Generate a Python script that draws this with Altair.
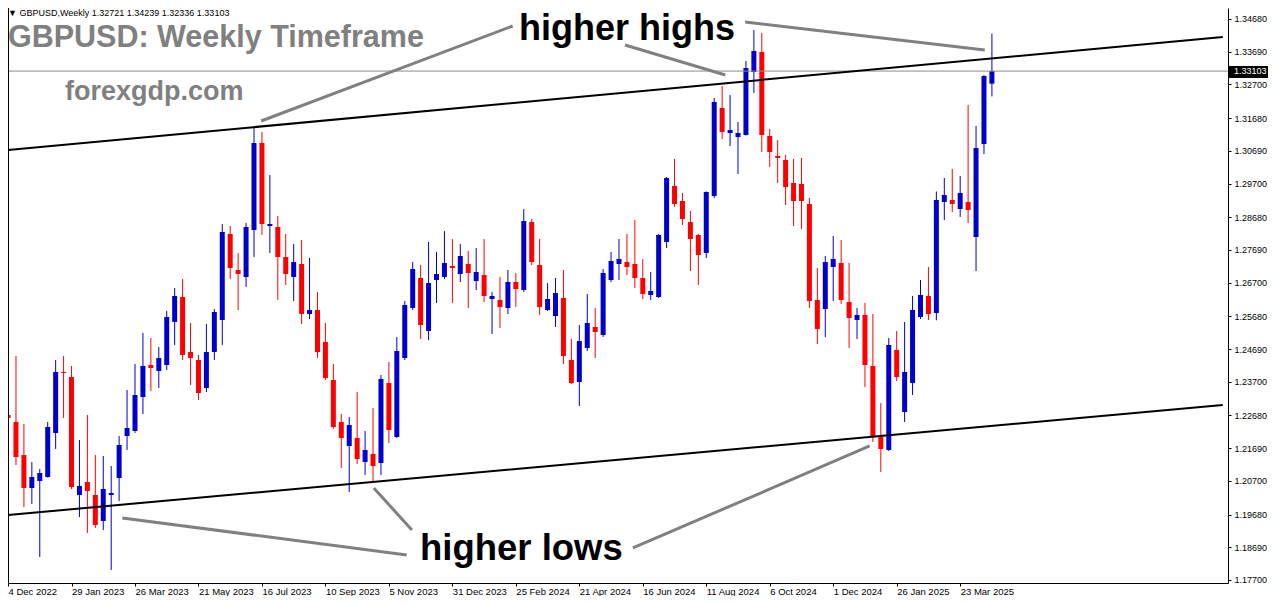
import json
import altair as alt
import pandas as pd

# ---------------- data (weekly GBPUSD candles) -------------
opens = [1.22694, 1.22482, 1.21483, 1.20484, 1.20696, 1.20817, 1.22149, 1.23995, 1.23844, 1.20273,
         1.20666, 1.20273, 1.19486, 1.20273, 1.20787, 1.22058, 1.22210, 1.23239, 1.24207, 1.24026,
         1.24207, 1.25509, 1.26265, 1.24601, 1.24359, 1.23511, 1.24601, 1.25569, 1.28172, 1.27082,
         1.26871, 1.28293, 1.30926, 1.28414, 1.28384, 1.27476, 1.26871, 1.27264, 1.25751, 1.25872,
         1.24903, 1.23753, 1.22482, 1.21756, 1.21998, 1.21271, 1.21514, 1.21241, 1.23662, 1.22028,
         1.24419, 1.25932, 1.26840, 1.25236, 1.26780, 1.26871, 1.27204, 1.26961, 1.27264, 1.26750,
         1.26931, 1.26205, 1.26174, 1.25932, 1.26719, 1.26477, 1.28535, 1.27234, 1.25872, 1.25690,
         1.26235, 1.24359, 1.23693, 1.24722, 1.25357, 1.25115, 1.26780, 1.27264, 1.27325, 1.27264,
         1.26840, 1.26326, 1.26265, 1.27930, 1.29625, 1.29171, 1.28535, 1.28142, 1.27597, 1.29322,
         1.31986, 1.31229, 1.31108, 1.31168, 1.33075, 1.33680, 1.31138, 1.30533, 1.30412, 1.29716,
         1.29685, 1.29080, 1.26174, 1.25902, 1.27173, 1.27294, 1.26114, 1.25569, 1.25720, 1.24177,
         1.22028, 1.21635, 1.24661, 1.22785, 1.23662, 1.25660, 1.26296, 1.25781, 1.29141, 1.29201,
         1.28929, 1.29141, 1.28081, 1.30896, 1.32721]
highs = [1.23451, 1.24480, 1.22421, 1.21271, 1.21060, 1.22482, 1.24359, 1.24480, 1.24177, 1.21937,
         1.22694, 1.21483, 1.21453, 1.21150, 1.22058, 1.23451, 1.24237, 1.25176, 1.25024, 1.24752,
         1.25842, 1.26538, 1.26810, 1.25478, 1.24510, 1.25448, 1.25902, 1.28475, 1.28414, 1.27597,
         1.28505, 1.31380, 1.31259, 1.29958, 1.28717, 1.28172, 1.27869, 1.27990, 1.27446, 1.26417,
         1.25478, 1.24237, 1.22724, 1.22633, 1.23390, 1.22210, 1.22906, 1.23905, 1.24298, 1.25055,
         1.26144, 1.27325, 1.27234, 1.27930, 1.27627, 1.28263, 1.28018, 1.27869, 1.27658, 1.27748,
         1.28018, 1.26417, 1.26871, 1.27082, 1.26992, 1.28929, 1.28626, 1.28021, 1.26689, 1.26840,
         1.27082, 1.24994, 1.25418, 1.26356, 1.25932, 1.27113, 1.27627, 1.28021, 1.28172, 1.28596,
         1.27415, 1.27022, 1.28172, 1.29897, 1.30442, 1.29413, 1.28868, 1.28172, 1.29460, 1.32288,
         1.32651, 1.32379, 1.31562, 1.33408, 1.34346, 1.34256, 1.31350, 1.31017, 1.30563, 1.30442,
         1.30472, 1.29262, 1.27143, 1.27506, 1.28112, 1.27990, 1.27294, 1.25932, 1.26084, 1.25751,
         1.23057, 1.25024, 1.25236, 1.25509, 1.26296, 1.26780, 1.27173, 1.29460, 1.29867, 1.30139,
         1.29927, 1.32076, 1.31441, 1.32984, 1.34239]
lows = [1.21060, 1.21181, 1.19909, 1.20000, 1.18396, 1.20800, 1.21665, 1.22603, 1.20454, 1.19607,
        1.19123, 1.19274, 1.19213, 1.18003, 1.20091, 1.21635, 1.22149, 1.22724, 1.23420, 1.23511,
        1.24056, 1.24813, 1.24359, 1.23602, 1.23148, 1.23390, 1.24359, 1.24813, 1.26810, 1.25872,
        1.26568, 1.27476, 1.28142, 1.27597, 1.26174, 1.26628, 1.26144, 1.25448, 1.25599, 1.24419,
        1.23753, 1.22270, 1.21090, 1.20363, 1.21211, 1.20878, 1.20636, 1.20878, 1.21846, 1.22000,
        1.24359, 1.25872, 1.24994, 1.24964, 1.26084, 1.26810, 1.26084, 1.26719, 1.25932, 1.26477,
        1.26114, 1.25145, 1.25327, 1.25751, 1.25963, 1.26417, 1.27234, 1.25720, 1.25842, 1.25357,
        1.24237, 1.23632, 1.22966, 1.24631, 1.24419, 1.25055, 1.26719, 1.26780, 1.26931, 1.26538,
        1.26205, 1.26174, 1.26235, 1.27748, 1.28989, 1.28444, 1.27052, 1.26628, 1.27446, 1.29262,
        1.31047, 1.30835, 1.29988, 1.31150, 1.32440, 1.30654, 1.30200, 1.29716, 1.29050, 1.28414,
        1.28323, 1.25932, 1.24843, 1.25055, 1.26144, 1.26053, 1.24722, 1.24994, 1.23541, 1.21877,
        1.20969, 1.21600, 1.23723, 1.22482, 1.23299, 1.25599, 1.25569, 1.25560, 1.28596, 1.28838,
        1.28687, 1.28505, 1.27052, 1.30593, 1.32336]
closes = [1.22603, 1.21423, 1.20484, 1.20817, 1.20938, 1.22331, 1.23995, 1.23965, 1.20515, 1.20545,
          1.20394, 1.19365, 1.20454, 1.20333, 1.21786, 1.22300, 1.23299, 1.24177, 1.24116, 1.24419,
          1.25660, 1.26296, 1.24510, 1.24419, 1.23360, 1.24601, 1.25811, 1.28233, 1.27143, 1.26961,
          1.28384, 1.30926, 1.28475, 1.28475, 1.27476, 1.26961, 1.27325, 1.25751, 1.25872, 1.24601,
          1.23814, 1.22331, 1.21998, 1.22391, 1.21362, 1.21635, 1.21150, 1.23783, 1.22240, 1.24631,
          1.26023, 1.27113, 1.25418, 1.26689, 1.26961, 1.27294, 1.27143, 1.27506, 1.26992, 1.27022,
          1.26296, 1.26296, 1.25963, 1.26719, 1.26507, 1.28565, 1.27325, 1.25963, 1.26205, 1.26386,
          1.24480, 1.23662, 1.24934, 1.25478, 1.25206, 1.26992, 1.27355, 1.27415, 1.27173, 1.26840,
          1.26356, 1.26447, 1.28142, 1.29867, 1.29080, 1.28626, 1.28021, 1.27536, 1.29443, 1.32167,
          1.31259, 1.31320, 1.31229, 1.33196, 1.33711, 1.31168, 1.30654, 1.30472, 1.29595, 1.29171,
          1.29171, 1.26144, 1.25297, 1.27325, 1.27415, 1.26174, 1.25630, 1.25720, 1.24207, 1.22028,
          1.21665, 1.24813, 1.23844, 1.23995, 1.25872, 1.26326, 1.25751, 1.29201, 1.29352, 1.29080,
          1.29413, 1.28898, 1.30775, 1.32954, 1.33103]

week_labels = ["4 Dec 2022", "29 Jan 2023", "26 Mar 2023", "21 May 2023", "16 Jul 2023",
               "10 Sep 2023", "5 Nov 2023", "31 Dec 2023", "25 Feb 2024", "21 Apr 2024",
               "16 Jun 2024", "11 Aug 2024", "6 Oct 2024", "1 Dec 2024", "26 Jan 2025",
               "23 Mar 2025"]
label_weeks = [0, 8, 16, 24, 32, 40, 48, 56, 64, 72, 80, 88, 96, 104, 112, 120]
price_ticks = [1.1770, 1.1869, 1.1968, 1.2070, 1.2169, 1.2268, 1.2370, 1.2469, 1.2568,
               1.2670, 1.2769, 1.2868, 1.2970, 1.3069, 1.3168, 1.3270, 1.3369, 1.3468]

last_close = 1.33103
header = "\u25BC GBPUSD,Weekly  1.32721 1.34239 1.32336 1.33103"

# channel lines (week index, price)
channel_line = ["upper", "upper", "lower", "lower"]
channel_week = [0.0, 153.1, 0.0, 153.1]
channel_price = [1.30714, 1.34135, 1.19667, 1.22997]

# annotation pointer segments (week index, price)
seg_w1 = [63.6, 77.75, 92.9, 50.9, 50.25, 78.75]
seg_p1 = [1.34468, 1.33893, 1.34589, 1.19213, 1.18457, 1.18669]
seg_w2 = [31.9, 90.4, 123.1, 46.1, 14.4, 108.6]
seg_p2 = [1.31592, 1.32984, 1.33741, 1.20485, 1.19577, 1.21756]

# ---------------- build -----------------------------------------------------------
W, H = 1220, 575
df = pd.DataFrame({"week": list(range(len(opens))), "open": opens, "high": highs,
                   "low": lows, "close": closes})
df["dir"] = ["up" if c >= o else "down" for o, c in zip(opens, closes)]

xs = alt.Scale(domain=[0.625, 153.125], nice=False, zero=False)
ys = alt.Scale(domain=[1.17609, 1.35012], nice=False, zero=False)
cs = alt.Scale(domain=["up", "down"], range=["#0000CC", "#FF0000"])

label_map = json.dumps({str(w): l for w, l in zip(label_weeks, week_labels)})
xaxis = alt.Axis(values=label_weeks, labelExpr=f"{label_map}[datum.value]", labelAlign="left",
                 labelBaseline="top", labelFont="Liberation Sans", labelFontSize=9.5,
                 labelColor="black", tickColor="black", tickSize=3, labelPadding=0,
                 domainColor="black", grid=False, title=None, labelOverlap=False,
                 labelFlush=False)
yaxis = alt.Axis(orient="right", values=price_ticks, format=".5f", labelFont="Liberation Sans",
                 labelFontSize=9, labelColor="black", tickColor="black", tickSize=3,
                 labelPadding=3, domainColor="black", grid=False, title=None,
                 labelOverlap=False, labelFlush=False)


def X(field):
    return alt.X(field, scale=xs, axis=xaxis)


def Y(field):
    return alt.Y(field, scale=ys, axis=yaxis)


base = alt.Chart(df)
wicks = base.mark_rule(strokeWidth=1).encode(
    x=X("week:Q"), y=Y("low:Q"), y2="high:Q",
    color=alt.Color("dir:N", scale=cs, legend=None),
)
bodies = base.mark_bar(width=5).encode(
    x=X("week:Q"), y=Y("open:Q"), y2="close:Q",
    color=alt.Color("dir:N", scale=cs, legend=None),
)

lc_df = pd.DataFrame({"p": [last_close]})
price_line = alt.Chart(lc_df).mark_rule(color="#8c8c8c", strokeWidth=1).encode(y=Y("p:Q"))

chan_df = pd.DataFrame({"line": channel_line, "week": channel_week, "price": channel_price})
channel = alt.Chart(chan_df).mark_line(color="black", strokeWidth=2).encode(
    x=X("week:Q"), y=Y("price:Q"), detail="line:N",
)

seg_df = pd.DataFrame({"w1": seg_w1, "p1": seg_p1, "w2": seg_w2, "p2": seg_p2})
pointers = alt.Chart(seg_df).mark_rule(color="#808080", strokeWidth=3).encode(
    x=X("w1:Q"), x2="w2:Q", y=Y("p1:Q"), y2="p2:Q",
)

one = pd.DataFrame({"a": [0]})


def text(t, x, y, size, color, bold=True, baseline="alphabetic", font="Liberation Sans"):
    return alt.Chart(one).mark_text(text=t, align="left", baseline=baseline, font=font,
                                    fontSize=size, fontWeight="bold" if bold else "normal",
                                    color=color).encode(x=alt.value(x), y=alt.value(y))


title_t = text("GBPUSD: Weekly Timeframe", 0, 39, 30.5, "#808080")
site_t = text("forexgdp.com", 57, 92, 27, "#808080")
hh_t = text("higher highs", 511, 32, 36, "black")
hl_t = text("higher lows", 412, 552, 36.5, "black")
header_t = text(header, 0, 8, 9, "black", bold=False)

left_border = alt.Chart(one).mark_rule(color="black", strokeWidth=1).encode(
    x=alt.value(0.5), y=alt.value(0), y2=alt.value(H))

price_box = alt.Chart(one).mark_rect(color="black").encode(
    x=alt.value(1221), x2=alt.value(1260), y=alt.value(58), y2=alt.value(70))
price_txt = alt.Chart(lc_df).mark_text(
    align="left", baseline="middle", font="Liberation Sans", fontSize=9, color="white",
).encode(x=alt.value(1226), y=Y("p:Q"), text=alt.Text("p:Q", format=".5f"))

chart = alt.layer(
    wicks, bodies, price_line, channel, pointers, title_t, site_t, hh_t, hl_t, header_t,
    left_border, price_box, price_txt,
).properties(
    width=W, height=H,
    autosize=alt.AutoSizeParams(type="none"),
    padding={"left": 0, "top": 0, "right": 40, "bottom": 13},
    background="white",
).configure_view(stroke=None)

chart.save("out.html", embed_options={"renderer": "svg", "actions": False})
